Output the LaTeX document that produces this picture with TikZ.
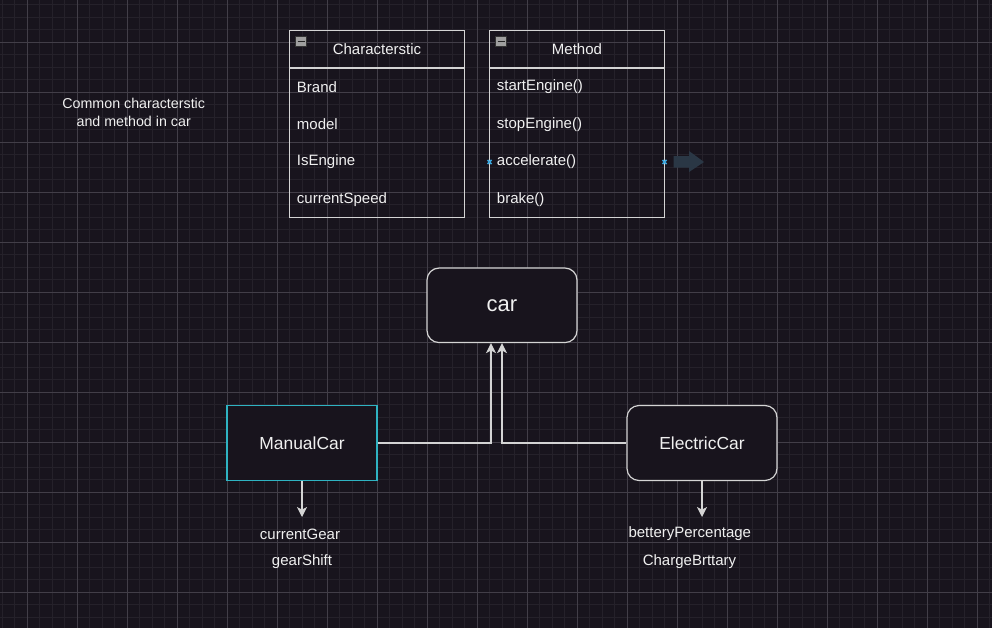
\documentclass[tikz,border=0pt]{standalone}
\usepackage{fontspec}
\setmainfont{Liberation Sans}
\usetikzlibrary{arrows.meta}
\definecolor{bgc}{HTML}{18141D}
\definecolor{minorg}{HTML}{25212A}
\definecolor{majorg}{HTML}{423E48}
\definecolor{fgc}{HTML}{F0F0F0}
\definecolor{strokec}{HTML}{D4D4D4}
\definecolor{tealc}{HTML}{2FB3C2}
\definecolor{hoverc}{HTML}{2A3745}
\definecolor{markc}{HTML}{3AA6DD}
\tikzset{
  tablebox/.style={draw=strokec, line width=0.9pt, minimum width=131.25pt, minimum height=140.25pt, inner sep=0pt},
  rowtext/.style={anchor=west, text=fgc, inner sep=0pt, font=\fontsize{11.25}{13}\selectfont},
  titletext/.style={text=fgc, inner sep=0pt, font=\fontsize{11.25}{13}\selectfont},
  classbox/.style={draw=strokec, fill=bgc, line width=0.9pt, minimum width=112.5pt, minimum height=56.25pt, rounded corners=9pt, text=fgc, font=\fontsize{13.1}{15}\selectfont},
  labeltext/.style={text=fgc, inner sep=0pt, font=\fontsize{11.25}{13}\selectfont},
  conn/.style={draw=strokec, line width=0.9pt, -{Stealth[length=7.5pt, width=7.5pt, inset=2pt, fill=strokec]}},
  minusicon/.style={draw=gray!40!black, fill=gray!75, line width=0.4pt}
}
\begin{document}
\begin{tikzpicture}[x=0.75pt, y=-0.75pt]
\useasboundingbox (0,0) rectangle (992,628);
\fill[bgc] (0,0) rectangle (992,628);
% grid
\foreach \i in {0,...,79} \draw[minorg, line width=0.6pt] ({2.3+12.5*\i},0) -- ({2.3+12.5*\i},628);
\foreach \j in {0,...,49} \draw[minorg, line width=0.6pt] (0,{4.8+12.5*\j}) -- (992,{4.8+12.5*\j});
\foreach \i in {0,...,19} \draw[majorg, line width=0.6pt] ({27.3+50*\i},0) -- ({27.3+50*\i},628);
\foreach \j in {0,...,11} \draw[majorg, line width=0.6pt] (0,{42.3+50*\j}) -- (992,{42.3+50*\j});

% note text
\node[text=fgc, align=center, inner sep=0pt, font=\fontsize{10.7}{13.5}\selectfont] (note) at (133.7,112) {Common characterstic\\and method in car};

% Characterstic table
\node[tablebox] (chr) at (377,124) {};
\draw[strokec, line width=0.9pt] (289.5,68) -- (464.5,68);
\draw[minusicon] (295.7,36.5) rectangle (306.7,46);
\draw[gray!30!black, line width=0.8pt] (297.5,41.3) -- (304.9,41.3);
\node[titletext] (chrtitle) at (377,49) {Characterstic};
\node[rowtext] (chr1) at (296.7,87) {Brand};
\node[rowtext] (chr2) at (296.7,124.3) {model};
\node[rowtext] (chr3) at (296.7,162) {IsEngine};
\node[rowtext] (chr4) at (296.7,199.3) {currentSpeed};

% Method table
\node[tablebox] (met) at (577,124) {};
\draw[strokec, line width=0.9pt] (489.5,68) -- (664.5,68);
\draw[minusicon] (495.7,36.5) rectangle (506.7,46);
\draw[gray!30!black, line width=0.8pt] (497.5,41.3) -- (504.9,41.3);
\node[titletext] (mettitle) at (577,49) {Method};
\node[rowtext] (met1) at (496.7,87) {startEngine()};
\node[rowtext] (met2) at (496.7,124.3) {stopEngine()};
\node[rowtext] (met3) at (496.7,162) {accelerate()};
\node[rowtext] (met4) at (496.7,199.3) {brake()};

% hover markers and arrow
\foreach \mx in {489.5,664.5} {
  \draw[markc, line width=1.1pt] (\mx-2,160) -- (\mx+2,164);
  \draw[markc, line width=1.1pt] (\mx-2,164) -- (\mx+2,160);
}
\fill[hoverc] (673.5,156) -- (689,156) -- (689,151) -- (704,162) -- (689,172) -- (689,167.5) -- (673.5,167.5) -- cycle;

% classes
\node[classbox, minimum height=55.9pt, font=\fontsize{16.5}{19}\selectfont] (car) at (502,305.3) {car};
\node[classbox, draw=tealc, rounded corners=0pt] (manual) at (302,443) {ManualCar};
\node[classbox] (electric) at (702,443) {ElectricCar};

% inheritance connectors
\draw[conn] (manual.east) -| ([xshift=-8.25pt]car.south);
\draw[conn] (electric.west) -| (car.south);

% attribute labels
\coordinate (mtip) at (302,517);
\coordinate (etip) at (702,517);
\draw[conn] (manual.south) -- (mtip);
\draw[conn] (electric.south) -- (etip);
\node[labeltext] (gear1) at (300,534) {currentGear};
\node[labeltext] (gear2) at (302,562) {gearShift};
\node[labeltext] (el1) at (689.8,534) {betteryPercentage};
\node[labeltext] (el2) at (689.5,562) {ChargeBrttary};
\end{tikzpicture}
\end{document}
